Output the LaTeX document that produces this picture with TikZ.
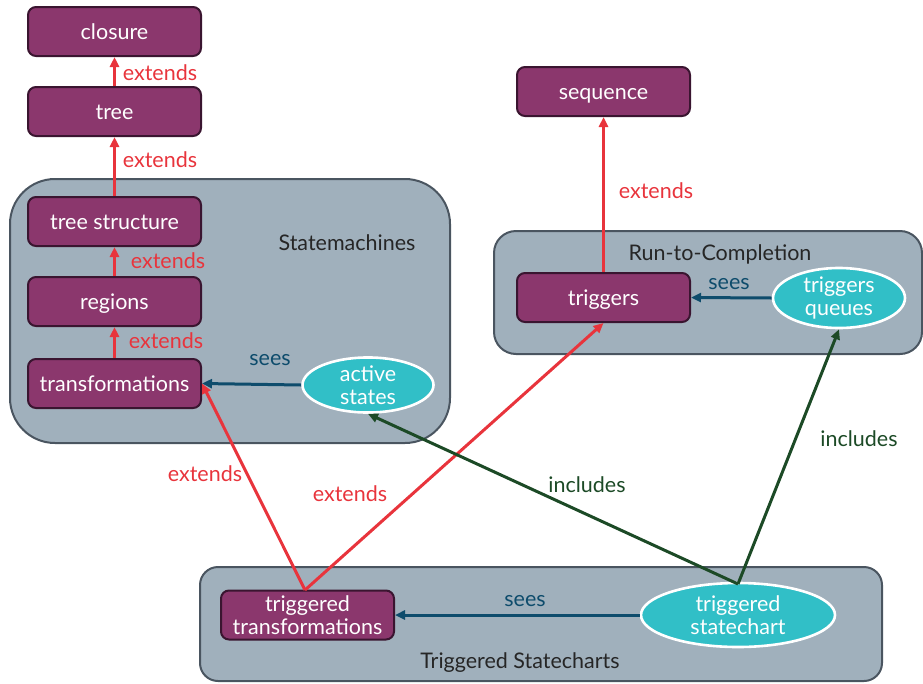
\documentclass[tikz,border=0pt]{standalone}
\usepackage{fontspec}
\setmainfont{Lato}
\usetikzlibrary{arrows.meta,shapes.geometric}
\definecolor{boxfill}{HTML}{8B376D}
\definecolor{boxline}{HTML}{3A1530}
\definecolor{contfill}{HTML}{A0B0BC}
\definecolor{contline}{HTML}{4A5560}
\definecolor{ellfill}{HTML}{31BFC7}
\definecolor{extred}{HTML}{E8343C}
\definecolor{seeblue}{HTML}{0E4C6C}
\definecolor{incgreen}{HTML}{1C4A26}
\newcommand{\dfont}{\fontsize{21.5}{23}\selectfont}
\tikzset{
  x=1pt,y=-1pt,
  mod/.style={draw=boxline,line width=2pt,fill=boxfill,rounded corners=8pt,minimum width=173pt,minimum height=49pt,text=white,font=\dfont,align=center,inner sep=2pt},
  oneline/.style={text height=16pt,text depth=1pt},
  ell/.style={ellipse,draw=white,line width=2.6pt,fill=ellfill,text=white,font=\dfont,align=center,inner sep=0pt},
  cont/.style={draw=contline,line width=2pt,fill=contfill},
  clab/.style={text=black!85,font=\dfont},
  ext/.style={draw=extred,line width=3pt,-{Triangle[length=10pt,width=9pt]}},
  see/.style={draw=seeblue,line width=3pt,-{Triangle[length=10pt,width=9pt]}},
  inc/.style={draw=incgreen,line width=3pt,-{Triangle[length=10pt,width=9pt]}},
  extl/.style={text=extred,font=\dfont},
  seel/.style={text=seeblue,font=\dfont},
  incl/.style={text=incgreen,font=\dfont},
}
\begin{document}
\begin{tikzpicture}
\useasboundingbox (0,0) rectangle (923,683);
% containers
\draw[cont,rounded corners=45pt] (10,179) rectangle (450,443);
\draw[cont,rounded corners=22pt] (494,231) rectangle (922,354);
\draw[cont,rounded corners=18pt] (200,567) rectangle (882,681);
\node[clab] (smlab) at (347,243) {Statemachines};
\node[clab] (rtclab) at (720,254) {Run-to-Completion};
\node[clab] (tslab) at (520,663) {Triggered Statecharts};
% modules
\node[mod,oneline] (closure) at (114.5,31.5) {closure};
\node[mod,oneline] (tree) at (114.5,111.5) {tree};
\node[mod,oneline] (treestr) at (114.5,221.5) {tree structure};
\node[mod,oneline] (regions) at (114.5,301.5) {regions};
\node[mod,oneline] (transf) at (114.5,383.5) {transformations};
\node[mod,oneline] (sequence) at (603.5,91.5) {sequence};
\node[mod,oneline] (triggers) at (603.5,297.5) {triggers};
\node[mod] (trtransf) at (307.5,615) {triggered\\transformations};
\node[ell,minimum width=131pt,minimum height=55pt] (active) at (368,385) {active\\states};
\node[ell,minimum width=132pt,minimum height=60pt] (tqueues) at (839,298) {triggers\\queues};
\node[ell,minimum width=194pt,minimum height=64pt] (trchart) at (738,615) {triggered\\statechart};
% coordinates on bottom nodes
\coordinate (ttop) at (305,590);
\coordinate (ctop) at (738,584);
% edges
\draw[ext] (tree.north) -- (closure.south);
\draw[ext] (treestr.north) -- (tree.south);
\draw[ext] (regions.north) -- (treestr.south);
\draw[ext] (transf.north) -- (regions.south);
\draw[ext] (triggers.north) -- (sequence.south);
\draw[see] (active.west) -- (transf.east);
\draw[see] (tqueues.west) -- (triggers.east);
\draw[see] (trchart.west) -- (trtransf.east);
\draw[ext] (ttop) -- (transf.east);
\draw[ext] (ttop) -- (triggers.south);
\draw[inc] (ctop) -- (active.south);
\draw[inc] (ctop) -- (tqueues.south);
% labels
\node[extl] (l1) at (160,73) {extends};
\node[extl] (l2) at (160,160) {extends};
\node[extl] (l3) at (168,261) {extends};
\node[extl] (l4) at (166,341) {extends};
\node[extl] (l5) at (656,191) {extends};
\node[extl] (l6) at (205,474) {extends};
\node[extl] (l7) at (350,494) {extends};
\node[seel] (s1) at (270,360) {sees};
\node[seel] (s2) at (729,284) {sees};
\node[seel] (s3) at (525,601) {sees};
\node[incl] (i1) at (587,485) {includes};
\node[incl] (i2) at (859,439) {includes};
\end{tikzpicture}
\end{document}
